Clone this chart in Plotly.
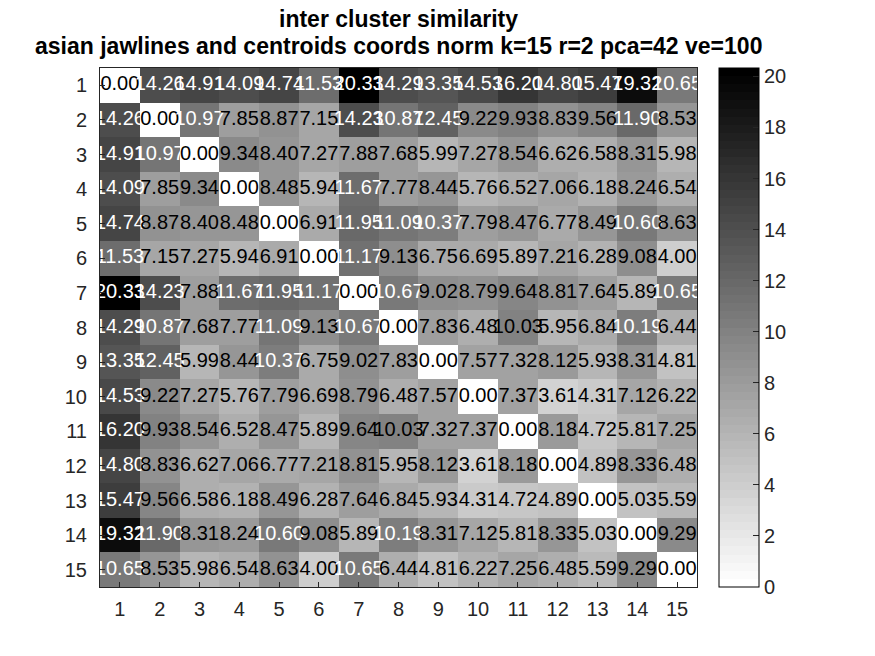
import plotly.graph_objects as go

labels = [str(i) for i in range(1, 16)]

similarity = [
    [0.00, 14.26, 14.91, 14.09, 14.74, 11.53, 20.33, 14.29, 13.35, 14.53, 16.20, 14.80, 15.47, 19.32, 10.65],
    [14.26, 0.00, 10.97, 7.85, 8.87, 7.15, 14.23, 10.87, 12.45, 9.22, 9.93, 8.83, 9.56, 11.90, 8.53],
    [14.91, 10.97, 0.00, 9.34, 8.40, 7.27, 7.88, 7.68, 5.99, 7.27, 8.54, 6.62, 6.58, 8.31, 5.98],
    [14.09, 7.85, 9.34, 0.00, 8.48, 5.94, 11.67, 7.77, 8.44, 5.76, 6.52, 7.06, 6.18, 8.24, 6.54],
    [14.74, 8.87, 8.40, 8.48, 0.00, 6.91, 11.95, 11.09, 10.37, 7.79, 8.47, 6.77, 8.49, 10.60, 8.63],
    [11.53, 7.15, 7.27, 5.94, 6.91, 0.00, 11.17, 9.13, 6.75, 6.69, 5.89, 7.21, 6.28, 9.08, 4.00],
    [20.33, 14.23, 7.88, 11.67, 11.95, 11.17, 0.00, 10.67, 9.02, 8.79, 9.64, 8.81, 7.64, 5.89, 10.65],
    [14.29, 10.87, 7.68, 7.77, 11.09, 9.13, 10.67, 0.00, 7.83, 6.48, 10.03, 5.95, 6.84, 10.19, 6.44],
    [13.35, 12.45, 5.99, 8.44, 10.37, 6.75, 9.02, 7.83, 0.00, 7.57, 7.32, 8.12, 5.93, 8.31, 4.81],
    [14.53, 9.22, 7.27, 5.76, 7.79, 6.69, 8.79, 6.48, 7.57, 0.00, 7.37, 3.61, 4.31, 7.12, 6.22],
    [16.20, 9.93, 8.54, 6.52, 8.47, 5.89, 9.64, 10.03, 7.32, 7.37, 0.00, 8.18, 4.72, 5.81, 7.25],
    [14.80, 8.83, 6.62, 7.06, 6.77, 7.21, 8.81, 5.95, 8.12, 3.61, 8.18, 0.00, 4.89, 8.33, 6.48],
    [15.47, 9.56, 6.58, 6.18, 8.49, 6.28, 7.64, 6.84, 5.93, 4.31, 4.72, 4.89, 0.00, 5.03, 5.59],
    [19.32, 11.90, 8.31, 8.24, 10.60, 9.08, 5.89, 10.19, 8.31, 7.12, 5.81, 8.33, 5.03, 0.00, 9.29],
    [10.65, 8.53, 5.98, 6.54, 8.63, 4.00, 10.65, 6.44, 4.81, 6.22, 7.25, 6.48, 5.59, 9.29, 0.00],
]

title_lines = [
    "inter cluster similarity",
    "asian jawlines and centroids coords norm k=15 r=2 pca=42 ve=100",
]

n = len(labels)
zmax = max(max(r) for r in similarity)
thresh = zmax / 2.0

# MATLAB-like flipped gray(64) colormap, stepped
levels = 64
colorscale = []
for i in range(levels):
    g = round(255 * (1 - i / (levels - 1)))
    c = f"rgb({g},{g},{g})"
    colorscale.append([i / levels, c])
    colorscale.append([(i + 1) / levels, c])

FONT = "Liberation Sans, Arial, sans-serif"
TXT = "#262626"

fig = go.Figure()
fig.add_trace(go.Heatmap(
    z=similarity,
    x=list(range(1, n + 1)),
    y=list(range(1, n + 1)),
    zmin=0, zmax=zmax,
    colorscale=colorscale,
    showscale=True,
    hoverinfo="skip",
    colorbar=dict(
        thickness=40, thicknessmode="pixels",
        len=1, lenmode="fraction",
        x=1.0369, xanchor="left", xpad=0,
        y=0.5, yanchor="middle", ypad=0,
        outlinecolor="black", outlinewidth=1,
        tickmode="array", tickvals=list(range(0, 21, 2)),
        ticks="inside", ticklen=6, tickcolor=TXT,
        tickfont=dict(family=FONT, size=20, color=TXT),
    ),
))

xs, ys, ts, cs = [], [], [], []
for r in range(n):
    for c in range(n):
        v = similarity[r][c]
        xs.append(c + 1)
        ys.append(r + 1)
        ts.append(f"{v:.2f}")
        cs.append("white" if v > thresh else "black")

fig.add_trace(go.Scatter(
    x=xs, y=ys, text=ts, mode="text",
    textposition="middle center",
    textfont=dict(family=FONT, size=20, color=cs),
    cliponaxis=False, hoverinfo="skip", showlegend=False,
))

plot_top, plot_h = 68, 519
for line, ypx in zip(title_lines, [19, 46]):
    fig.add_annotation(
        text=f"<b>{line}</b>", showarrow=False,
        xref="paper", x=0.5, xanchor="center",
        yref="paper", y=1 + (plot_top - ypx) / plot_h, yanchor="middle",
        font=dict(family=FONT, size=23, color="black"),
    )

fig.update_layout(
    width=875, height=656,
    margin=dict(l=100, r=178, t=68, b=69),
    paper_bgcolor="white", plot_bgcolor="white",
    showlegend=False,
    xaxis=dict(
        range=[0.5, n + 0.5], tickmode="array",
        tickvals=list(range(1, n + 1)), ticktext=labels,
        ticks="inside", ticklen=5, tickcolor=TXT,
        showgrid=False, zeroline=False,
        showline=True, linecolor=TXT, linewidth=1, mirror=True,
        tickfont=dict(family=FONT, size=20, color=TXT),
        ticklabelstandoff=4,
    ),
    yaxis=dict(
        range=[n + 0.5, 0.5], tickmode="array",
        tickvals=list(range(1, n + 1)), ticktext=labels,
        ticks="inside", ticklen=5, tickcolor=TXT,
        showgrid=False, zeroline=False,
        showline=True, linecolor=TXT, linewidth=1, mirror=True,
        tickfont=dict(family=FONT, size=20, color=TXT),
        ticklabelstandoff=8,
    ),
)

fig.write_html("out.html")
